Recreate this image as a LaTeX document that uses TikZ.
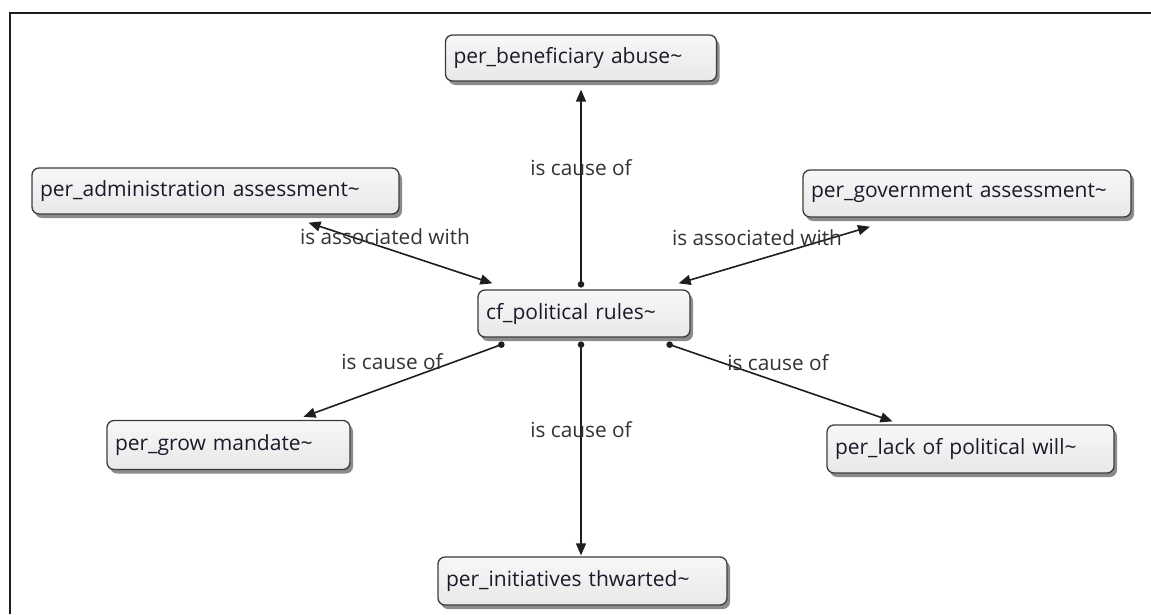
\documentclass[tikz,border=0pt]{standalone}
\usepackage{fontspec}
\setmainfont{Open Sans}
\usetikzlibrary{arrows.meta,shadows}
\definecolor{edgecol}{HTML}{1E1E1E}
\definecolor{boxborder}{HTML}{3C3C3C}
\definecolor{labcol}{HTML}{333333}
\definecolor{nodetext}{HTML}{1A1A2A}
\tikzset{
  concept/.style={draw=boxborder, line width=1.3pt, rounded corners=7pt,
    top color=white!97!black, bottom color=black!9,
    drop shadow={shadow xshift=3pt, shadow yshift=-4pt, opacity=0.45, fill=black},
    font=\fontsize{21}{24}\selectfont, text=nodetext, align=left,
    inner xsep=8pt, inner ysep=0pt},
  lab/.style={font=\fontsize{20.8}{24}\selectfont, text=labcol, inner sep=0pt},
  conn/.style={draw=edgecol, line width=1.6pt},
  tip/.style={-{Triangle[length=12pt,width=10pt]}},
  bothtip/.style={{Triangle[length=12pt,width=10pt]}-{Triangle[length=12pt,width=10pt]}},
}
\begin{document}
\begin{tikzpicture}[x=1pt,y=-1pt]
\useasboundingbox (0,0) rectangle (1151,614);
\fill[white] (0,0) rectangle (1151,614);
\draw[line width=1.5pt, edgecol] (1151,13) -- (10,13) -- (10,614);

\node[concept, text width=255pt, minimum height=46pt] (b) at (581,58) {per\_beneficiary abuse\textasciitilde};
\node[concept, text width=351pt, minimum height=46pt] (a) at (215.5,191) {per\_administration assessment\textasciitilde};
\node[concept, text width=312pt, minimum height=47pt] (g) at (967,193.5) {per\_government assessment\textasciitilde};
\node[concept, text width=196pt, minimum height=47pt] (c) at (584,313.5) {cf\_political rules\textasciitilde};
\node[concept, text width=227pt, minimum height=49pt] (m) at (228.5,445) {per\_grow mandate\textasciitilde};
\node[concept, text width=271pt, minimum height=48pt] (l) at (970.5,449) {per\_lack of political will\textasciitilde};
\node[concept, text width=273pt, minimum height=48pt] (i) at (582.5,581) {per\_initiatives thwarted\textasciitilde};

% connector end points
\coordinate (cT)  at ([shift={(-3pt,5pt)}]c.north);
\coordinate (cB)  at ([shift={(-3pt,-7pt)}]c.south);
\coordinate (cBL) at ([shift={(24pt,-7pt)}]c.south west);
\coordinate (cBR) at ([shift={(-21pt,-7pt)}]c.south east);
\coordinate (cTL) at ([shift={(15pt,6pt)}]c.north west);
\coordinate (cTR) at ([shift={(-12pt,6pt)}]c.north east);
\coordinate (bE)  at ([yshift=-8pt]b.south);
\coordinate (aE)  at ([shift={(93pt,-8pt)}]a.south);
\coordinate (gE)  at ([shift={(-97pt,-9pt)}]g.south);
\coordinate (mE)  at ([shift={(75pt,3pt)}]m.north);
\coordinate (iE)  at ([shift={(-1.5pt,1pt)}]i.north);
\coordinate (lE)  at ([shift={(-78pt,3pt)}]l.north);

\draw[conn, tip] (cT) -- (bE);
\draw[conn, bothtip] (aE) -- (cTL);
\draw[conn, bothtip] (cTR) -- (gE);
\draw[conn, tip] (cBL) -- (mE);
\draw[conn, tip] (cB) -- (iE);
\draw[conn, tip] (cBR) -- (lE);
\foreach \p in {cT,cB,cBL,cBR} \fill[edgecol] (\p) circle (3.3pt);

\node[lab] (l1) at (581,168) {is cause of};
\node[lab] (l2) at (385,237) {is associated with};
\node[lab] (l3) at (757,238) {is associated with};
\node[lab] (l4) at (392,362) {is cause of};
\node[lab] (l5) at (581,430) {is cause of};
\node[lab] (l6) at (778,363) {is cause of};
\end{tikzpicture}
\end{document}
